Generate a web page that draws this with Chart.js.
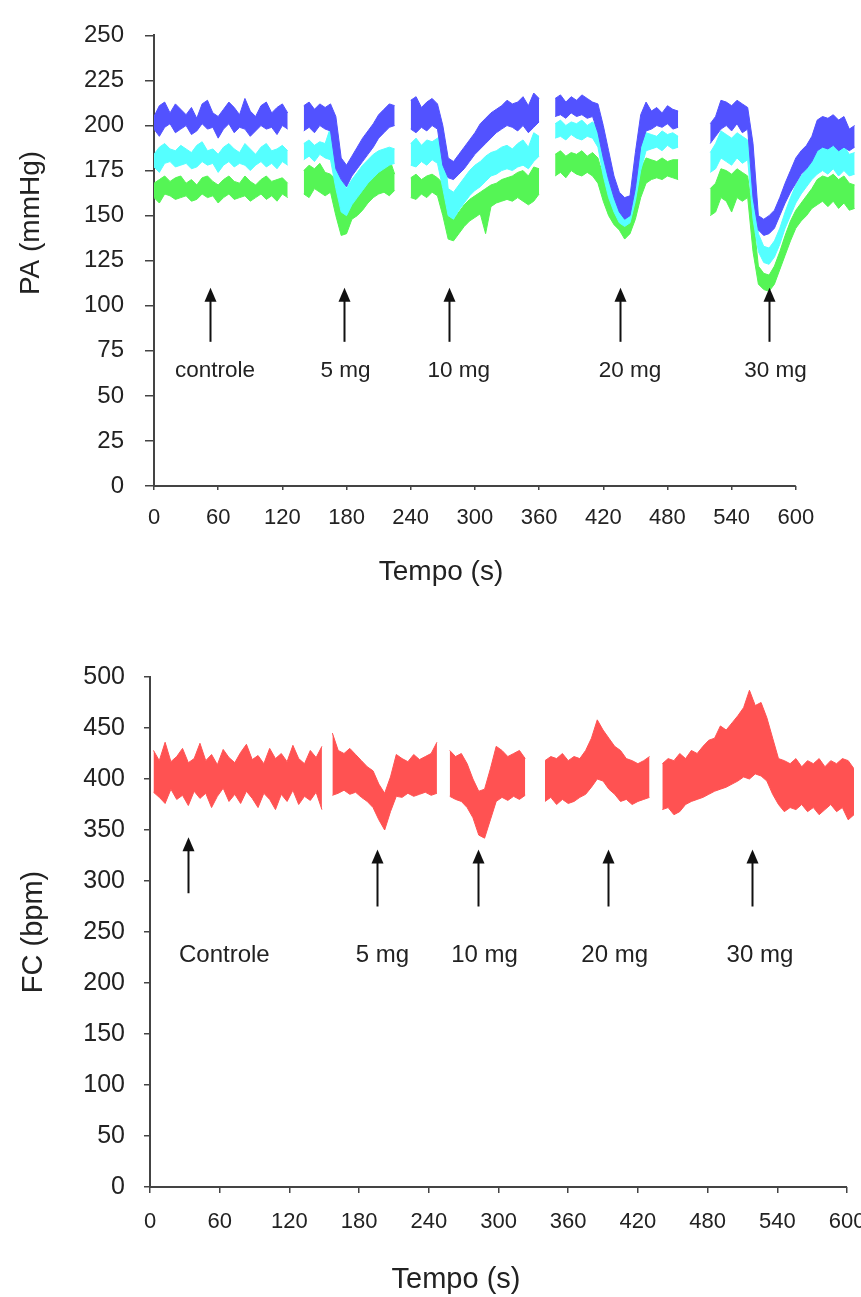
<!DOCTYPE html>
<html>
<head>
<meta charset="utf-8">
<script src="https://cdn.jsdelivr.net/npm/chart.js"></script>
<style>
  html, body { margin: 0; padding: 0; background: #fff; }
  body { width: 861px; height: 1297px; position: relative; overflow: hidden; }
  canvas { position: absolute; left: 0; }
  #pa { top: 0; }
  #fc { top: 640px; }
</style>
</head>
<body>
<canvas id="pa" width="861" height="600"></canvas>
<canvas id="fc" width="861" height="657"></canvas>
<script>
// PA (mmHg) - tempo em segundos, null = intervalo sem registro
const tempoPA = [
  0, 5, 10, 15, 20, 25, 30, 35, 40, 45, 50, 55, 60, 65, 70, 75, 80, 85, 90, 95, 100, 105, 110, 115, 120, 125,
  132,
  140, 145, 150, 155, 160, 165, 170, 175, 180, 185, 190, 195, 200, 205, 210, 215, 220, 225,
  231,
  240, 245, 250, 255, 260, 265, 270, 275, 280, 285, 290, 295, 300, 305, 310, 315, 320, 325, 330, 335, 340, 345, 350, 355, 360,
  367,
  375, 380, 385, 390, 395, 400, 405, 410, 415, 420, 425, 430, 435, 440, 445, 450, 455, 460, 465, 470, 475, 480, 485, 490,
  505,
  520, 525, 530, 535, 540, 545, 550, 555, 560, 565, 570, 575, 580, 585, 590, 595, 600, 605, 610, 615, 620, 625, 630, 635, 640, 645, 650, 655
];
// sistolica (azul)
const sisMax = [
  205, 211, 213, 207, 212, 209, 206, 210, 204, 212, 214, 207, 205, 209, 213, 210, 206, 215, 208, 205, 211, 213, 207, 210, 212, 207,
  null,
  211, 213, 209, 212, 210, 212, 205, 182, 178, 183, 188, 193, 197, 201, 206, 209, 212, 211,
  null,
  214, 216, 210, 213, 215, 212, 200, 182, 180, 184, 188, 192, 196, 201, 204, 207, 209, 211, 214, 212, 213, 216, 211, 218, 215,
  null,
  215, 217, 213, 216, 214, 217, 215, 213, 212, 200, 186, 172, 163, 160, 161, 185, 206, 213, 208, 210, 207, 211, 209, 208,
  null,
  201, 205, 214, 213, 211, 214, 212, 210, 190, 150, 148, 150, 153, 160, 168, 175, 182, 186, 189, 194, 203, 205, 204, 206, 203, 205, 198, 200
];
const sisMin = [
  198, 194, 199, 201, 196, 198, 200, 195, 197, 201, 198, 199, 193, 198, 201, 196, 199, 198, 194, 197, 200, 198, 199, 195, 200, 198,
  null,
  197, 199, 196, 200, 198, 197, 176, 170, 166, 172, 176, 180, 184, 188, 193, 196, 199, 200,
  null,
  198, 196, 199, 197, 200, 198, 178, 171, 170, 173, 176, 180, 184, 187, 190, 193, 196, 198, 200, 199, 197, 200, 196, 199, 202,
  null,
  205, 206, 204, 207, 205, 206, 204, 205, 196, 182, 170, 160, 152, 148, 150, 165, 188, 197, 198, 200, 199, 201, 198, 199,
  null,
  190, 194, 198, 200, 197, 201, 196, 198, 160, 142, 139, 140, 143, 150, 157, 163, 168, 173, 176, 180, 186, 188, 187, 189, 186, 188, 186, 188
];
// media (ciano)
const medMax = [
  184, 188, 190, 187, 186, 189, 187, 185, 189, 191, 186, 187, 184, 188, 190, 187, 185, 190, 187, 184, 188, 190, 186, 187, 189, 186,
  null,
  190, 192, 189, 191, 190, 199, 192, 170, 165, 170, 174, 178, 181, 184, 186, 187, 188, 187,
  null,
  190, 193, 189, 192, 191, 193, 195, 165, 163, 167, 171, 175, 178, 180, 183, 185, 186, 188, 189, 187, 190, 192, 188, 196, 194,
  null,
  201, 203, 200, 202, 201, 203, 200, 202, 199, 190, 176, 163, 156, 154, 156, 175, 190, 196, 195, 194, 197, 195, 196, 194,
  null,
  185, 190, 197, 195, 193, 196, 194, 192, 170, 140, 133, 132, 136, 143, 152, 160, 167, 172, 176, 180, 187, 189, 188, 190, 187, 189, 184, 185
];
const medMin = [
  177, 174, 179, 180, 177, 178, 179, 176, 177, 180, 178, 179, 174, 178, 180, 177, 179, 178, 175, 178, 180, 177, 179, 176, 180, 178,
  null,
  181, 183, 180, 184, 182, 181, 165, 152, 150, 156, 160, 164, 168, 171, 174, 176, 178, 179,
  null,
  178, 177, 180, 178, 181, 179, 165, 150, 148, 153, 157, 161, 164, 166, 169, 172, 173, 175, 176, 175, 177, 178, 176, 180, 183,
  null,
  193, 194, 192, 195, 193, 192, 194, 193, 188, 172, 160, 152, 146, 144, 146, 158, 175, 186, 187, 188, 186, 189, 187, 188,
  null,
  174, 176, 182, 180, 178, 182, 179, 181, 148, 130, 124, 123, 127, 134, 143, 150, 157, 162, 166, 170, 173, 175, 173, 176, 172, 175, 172, 173
];
// diastolica (verde)
const diaMax = [
  168, 170, 172, 169, 171, 172, 168, 170, 167, 171, 172, 169, 167, 170, 172, 169, 168, 172, 169, 167, 170, 172, 169, 170, 171, 168,
  null,
  175, 178, 176, 179, 174, 173, 170, 158, 155, 160, 163, 165, 168, 171, 175, 180, 182, 173,
  null,
  171, 173, 170, 172, 173, 171, 168, 150, 148, 152, 156, 159, 161, 163, 165, 167, 168, 170, 171, 172, 174, 175, 172, 177, 176,
  null,
  184, 186, 183, 185, 184, 186, 183, 185, 182, 172, 162, 155, 150, 148, 150, 165, 176, 182, 181, 180, 182, 180, 181, 181,
  null,
  165, 168, 176, 175, 173, 176, 174, 172, 150, 122, 118, 117, 122, 130, 139, 147, 153, 157, 161, 165, 170, 172, 171, 173, 170, 172, 168, 167
];
const diaMin = [
  160, 157, 162, 161, 159, 160, 161, 158, 159, 162, 160, 161, 157, 160, 162, 159, 160, 161, 158, 160, 162, 159, 161, 158, 162, 160,
  null,
  162, 160, 165, 163, 161, 163, 150, 139, 140, 148, 150, 153, 157, 160, 162, 163, 161, 164,
  null,
  160, 159, 162, 160, 163, 161, 150, 137, 136, 140, 144, 147, 149, 151, 140, 155, 157, 158, 159, 158, 160, 158, 156, 158, 162,
  null,
  172, 174, 171, 175, 173, 172, 174, 172, 168, 158, 150, 145, 142, 137, 140, 148, 160, 168, 170, 171, 170, 172, 171, 170,
  null,
  150, 152, 160, 158, 152, 160, 158, 160, 130, 112, 109, 108, 112, 120, 128, 136, 143, 147, 150, 154, 156, 158, 155, 158, 154, 157, 153, 154
];

// FC (bpm)
const tempoFC = [
  3, 8, 13, 18, 23, 28, 33, 38, 43, 48, 53, 58, 63, 68, 73, 78, 83, 88, 93, 98, 103, 108, 113, 118, 123, 128, 133, 138, 143, 148,
  152,
  157, 162, 167, 172, 177, 182, 187, 192, 197, 202, 207, 212, 217, 222, 227, 232, 237, 242, 247,
  253,
  258, 263, 268, 273, 278, 283, 288, 293, 298, 303, 308, 313, 318, 323,
  332,
  340, 345, 350, 355, 360, 365, 370, 375, 380, 385, 390, 395, 400, 405, 410, 415, 420, 425, 430,
  436,
  441, 446, 451, 456, 461, 466, 471, 476, 481, 486, 491, 496, 501, 506, 511, 516, 521, 526, 531, 536, 541, 546, 551, 556, 561, 566, 571, 576, 581, 586, 591, 596, 601, 606
];
const fcMax = [
  428, 418, 436, 417, 422, 430, 416, 420, 435, 418, 424, 414, 429, 421, 416, 426, 434, 419, 423, 415, 430, 420, 425, 417, 433, 420, 415, 428, 421, 432,
  null,
  445, 428, 425, 430, 424, 418, 412, 408, 395, 386, 402, 424, 420, 417, 424, 419, 422, 425, 436,
  null,
  428, 422, 425, 415, 400, 388, 390, 410, 432, 428, 422, 425, 428, 420,
  null,
  418, 422, 420, 425, 418, 422, 420, 428, 440, 458, 448, 440, 432, 428, 420, 418, 415, 418, 422,
  null,
  415, 420, 418, 425, 420, 428, 425, 432, 438, 440, 452, 448, 455, 462, 470, 487, 472, 475, 460, 440, 420, 418, 415, 420, 412, 418, 415, 420, 412, 418, 415, 420, 418, 410
];
const fcMin = [
  387, 382, 376, 390, 380, 384, 374, 388, 381, 386, 372, 383, 391, 378, 385, 376, 388, 381, 372, 386, 380, 370, 385, 378, 389, 375, 383, 379, 387, 370,
  null,
  384, 386, 389, 385, 387, 382, 378, 372, 360, 350, 368, 383, 382, 386, 383, 385, 387, 384, 386,
  null,
  383, 380, 378, 372, 362, 345, 342, 360, 378, 382, 379, 383, 380, 384,
  null,
  378, 382, 375, 380, 376, 378, 382, 385, 392, 400, 398, 390, 385, 378, 380, 375, 378, 380, 382,
  null,
  370, 372, 365, 368, 375, 378, 380, 382, 385, 388, 390, 392, 395, 398, 402, 400, 405, 403, 398, 385, 375, 368, 372, 370, 375, 368, 372, 365, 370, 375, 368, 372, 360, 365
];

// doses (setas) e rotulos
const dosesPA = ['controle', '5 mg', '10 mg', '20 mg', '30 mg'];
const setaPA = [52, 178, 276, 436, 575];
const rotuloPA = [57, 179, 285, 445, 581];
const dosesFC = ['Controle', '5 mg', '10 mg', '20 mg', '30 mg'];
const setaFC = [33, 195, 282, 394, 518];
const rotuloFC = [64, 200, 288, 400, 525];

const FONTE = '"Liberation Sans", Arial, Helvetica, sans-serif';

function pontos(tempo, valores) {
  return tempo.map((t, i) => ({ x: t, y: valores[i] }));
}

// faixa entre o maximo e o minimo de cada registro
function faixa(nome, tempo, max, min, cor) {
  return [
    { label: nome, data: pontos(tempo, max), borderColor: cor, borderWidth: 1, pointRadius: 0, fill: false },
    { label: nome, data: pontos(tempo, min), borderColor: cor, borderWidth: 1, pointRadius: 0, fill: '-1', backgroundColor: cor }
  ];
}

// eixo x, setas, rotulos das doses e titulos dos eixos
const anotacoes = {
  id: 'anotacoes',
  afterDraw(chart, args, o) {
    const ctx = chart.ctx;
    const x = chart.scales.x, y = chart.scales.y;
    ctx.save();

    ctx.strokeStyle = '#444';
    ctx.lineWidth = 2;
    ctx.beginPath();
    ctx.moveTo(x.getPixelForValue(0), y.getPixelForValue(0));
    ctx.lineTo(x.getPixelForValue(o.fimEixo), y.getPixelForValue(0));
    ctx.stroke();

    ctx.strokeStyle = '#111';
    ctx.fillStyle = '#111';
    o.setas.forEach((t, i) => {
      const px = Math.round(x.getPixelForValue(t)) + 0.5;
      const base = y.getPixelForValue(o.base[i]);
      const ponta = y.getPixelForValue(o.ponta[i]);
      ctx.lineWidth = 2;
      ctx.beginPath();
      ctx.moveTo(px, base);
      ctx.lineTo(px, ponta + 10);
      ctx.stroke();
      ctx.beginPath();
      ctx.moveTo(px, ponta);
      ctx.lineTo(px - 6, ponta + 14);
      ctx.lineTo(px + 6, ponta + 14);
      ctx.closePath();
      ctx.fill();
    });

    ctx.font = o.fonteRotulo;
    ctx.textAlign = 'center';
    ctx.textBaseline = 'middle';
    ctx.fillStyle = '#222';
    o.rotulos.forEach((txt, i) => {
      ctx.fillText(txt, x.getPixelForValue(o.posRotulo[i]), y.getPixelForValue(o.nivelRotulo));
    });

    ctx.font = o.fonteTitulo;
    ctx.fillText(o.tituloX.texto, o.tituloX.x, o.tituloX.y);
    ctx.translate(o.tituloY.x, o.tituloY.y);
    ctx.rotate(-Math.PI / 2);
    ctx.fillText(o.tituloY.texto, 0, 0);

    ctx.restore();
  }
};

function opcoes(cfg) {
  return {
    responsive: false,
    animation: false,
    devicePixelRatio: 1,
    layout: { padding: cfg.padding, autoPadding: false },
    plugins: {
      legend: { display: false },
      tooltip: { enabled: false },
      anotacoes: cfg.anotacoes
    },
    scales: {
      x: {
        type: 'linear',
        min: 0,
        max: cfg.xMax,
        afterBuildTicks: s => { s.ticks = s.ticks.filter(t => t.value <= 600); },
        afterFit: s => {
          s.height = cfg.alturaX;
          s.paddingLeft = 0;
          s.paddingRight = 0;
        },
        ticks: { stepSize: 60, includeBounds: false, maxRotation: 0, color: '#222', padding: cfg.padX, font: { family: FONTE, size: 22 } },
        grid: { drawOnChartArea: false, tickLength: cfg.tickX, color: '#444', lineWidth: 1.5 },
        border: { display: false }
      },
      y: {
        min: 0,
        max: cfg.yMax,
        afterFit: s => { s.width = cfg.larguraY; },
        ticks: { stepSize: cfg.passoY, color: '#222', padding: cfg.padY, font: { family: FONTE, size: cfg.fonteY } },
        grid: { drawOnChartArea: false, tickLength: cfg.tickY, color: '#444', lineWidth: 1.5 },
        border: { display: true, color: '#444', width: 2 }
      }
    }
  };
}

new Chart(document.getElementById('pa').getContext('2d'), {
  type: 'line',
  data: {
    datasets: [
      ...faixa('Sistólica', tempoPA, sisMax, sisMin, 'rgb(82, 82, 255)'),
      ...faixa('Média', tempoPA, medMax, medMin, 'rgb(85, 255, 255)'),
      ...faixa('Diastólica', tempoPA, diaMax, diaMin, 'rgb(85, 245, 85)')
    ]
  },
  options: opcoes({
    padding: { left: 0, top: 20, right: 1, bottom: 0 },
    xMax: 660, alturaX: 114, padX: 15, tickX: 4,
    yMax: 250, passoY: 25, larguraY: 154, padY: 21, tickY: 9, fonteY: 24,
    anotacoes: {
      fimEixo: 600,
      setas: setaPA,
      base: [80, 80, 80, 80, 80],
      ponta: [110, 110, 110, 110, 110],
      rotulos: dosesPA,
      posRotulo: rotuloPA,
      nivelRotulo: 64,
      fonteRotulo: '22.5px ' + FONTE,
      fonteTitulo: '28px ' + FONTE,
      tituloX: { texto: 'Tempo (s)', x: 441, y: 572 },
      tituloY: { texto: 'PA (mmHg)', x: 31, y: 223 }
    }
  }),
  plugins: [anotacoes]
});

new Chart(document.getElementById('fc').getContext('2d'), {
  type: 'line',
  data: {
    datasets: faixa('FC', tempoFC, fcMax, fcMin, 'rgb(255, 82, 82)')
  },
  options: opcoes({
    padding: { left: 0, top: 37, right: 7, bottom: 0 },
    xMax: 606, alturaX: 110, padX: 16, tickX: 6,
    yMax: 500, passoY: 50, larguraY: 150, padY: 19, tickY: 6, fonteY: 25,
    anotacoes: {
      fimEixo: 600,
      setas: setaFC,
      base: [288, 275, 275, 275, 275],
      ponta: [343, 331, 331, 331, 331],
      rotulos: dosesFC,
      posRotulo: rotuloFC,
      nivelRotulo: 227,
      fonteRotulo: '24px ' + FONTE,
      fonteTitulo: '29px ' + FONTE,
      tituloX: { texto: 'Tempo (s)', x: 456, y: 640 },
      tituloY: { texto: 'FC (bpm)', x: 34, y: 292 }
    }
  }),
  plugins: [anotacoes]
});
</script>
</body>
</html>
